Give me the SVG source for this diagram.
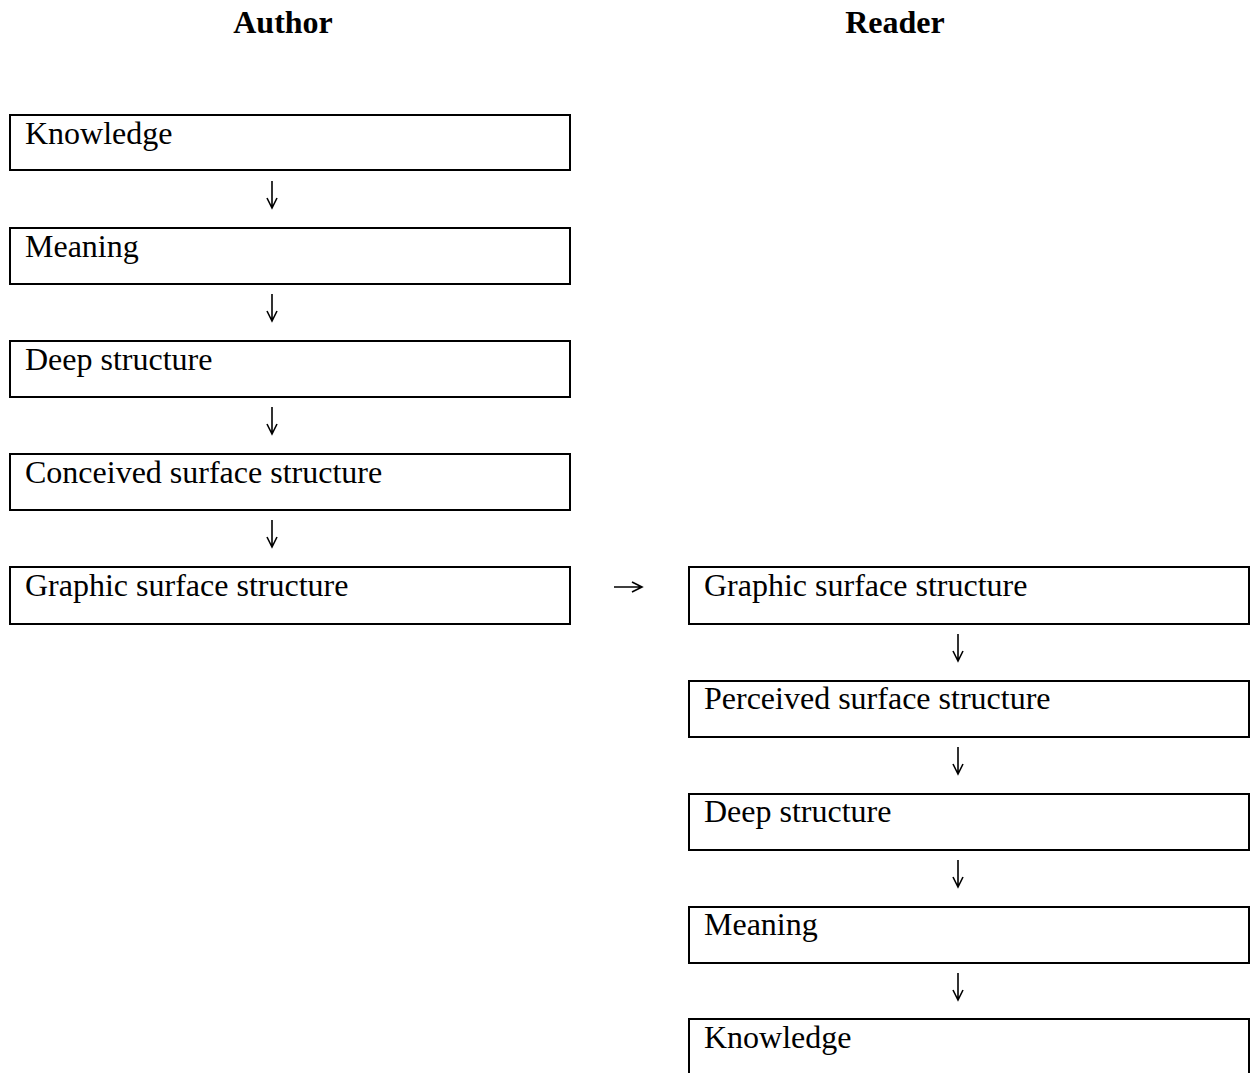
<svg xmlns="http://www.w3.org/2000/svg" width="1250" height="1073" viewBox="0 0 1250 1073">
<style>
.box{fill:#fff;stroke:#000;stroke-width:2}
.lbl{font-family:"Liberation Serif","Times New Roman",serif;font-size:32px;fill:#000}
.hdr{font-family:"Liberation Serif","Times New Roman",serif;font-size:32px;font-weight:bold;fill:#000;text-anchor:middle}
.con{stroke:#000;stroke-width:1.6;fill:none}
</style>
<rect width="1250" height="1073" fill="#fff"/>
<text class="hdr" x="283" y="33">Author</text>
<text class="hdr" x="895" y="33">Reader</text>
<g id="a1"><rect class="box" x="10" y="115" width="560" height="55"/><text class="lbl" x="25" y="144">Knowledge</text></g>
<g id="a2"><rect class="box" x="10" y="228" width="560" height="56"/><text class="lbl" x="25" y="257">Meaning</text></g>
<g id="a3"><rect class="box" x="10" y="341" width="560" height="56"/><text class="lbl" x="25" y="370">Deep structure</text></g>
<g id="a4"><rect class="box" x="10" y="454" width="560" height="56"/><text class="lbl" x="25" y="483">Conceived surface structure</text></g>
<g id="a5"><rect class="box" x="10" y="567" width="560" height="57"/><text class="lbl" x="25" y="596">Graphic surface structure</text></g>
<g id="r1"><rect class="box" x="689" y="567" width="560" height="57"/><text class="lbl" x="704" y="596">Graphic surface structure</text></g>
<g id="r2"><rect class="box" x="689" y="681" width="560" height="56"/><text class="lbl" x="704" y="709">Perceived surface structure</text></g>
<g id="r3"><rect class="box" x="689" y="794" width="560" height="56"/><text class="lbl" x="704" y="822">Deep structure</text></g>
<g id="r4"><rect class="box" x="689" y="907" width="560" height="56"/><text class="lbl" x="704" y="935">Meaning</text></g>
<g id="r5"><rect class="box" x="689" y="1019" width="560" height="70"/><text class="lbl" x="704" y="1048">Knowledge</text></g>
<g id="connectors">
<path class="con" d="M272 181V207M267 198L272 208L277 198"/>
<path class="con" d="M272 294V320M267 311L272 321L277 311"/>
<path class="con" d="M272 407V433M267 424L272 434L277 424"/>
<path class="con" d="M272 520V546M267 537L272 547L277 537"/>
<path class="con" d="M614 587H641M632 582L642 587L632 592"/>
<path class="con" d="M958 634V660M953 651L958 661L963 651"/>
<path class="con" d="M958 747V773M953 764L958 774L963 764"/>
<path class="con" d="M958 860V886M953 877L958 887L963 877"/>
<path class="con" d="M958 973V999M953 990L958 1000L963 990"/>
</g>
</svg>
